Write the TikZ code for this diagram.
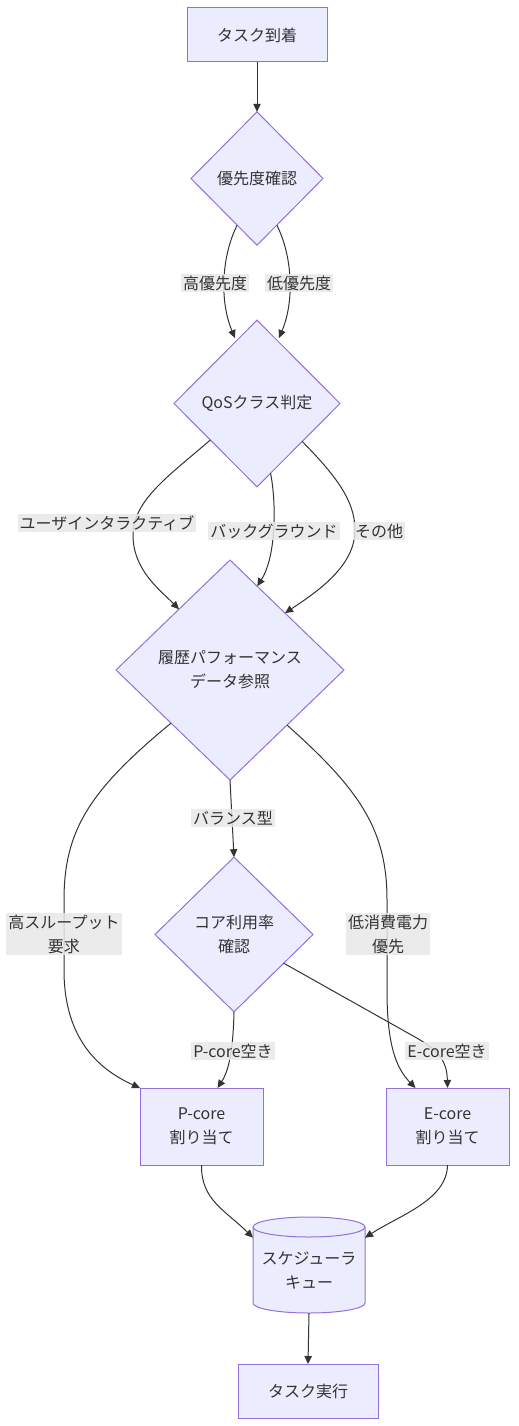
\documentclass[tikz,border=0pt]{standalone}
\usepackage{fontspec}
\setmainfont{Noto Sans CJK JP}
\usetikzlibrary{shapes.geometric,arrows.meta}
\definecolor{nfill}{HTML}{ECECFF}
\definecolor{nline}{HTML}{9370DB}
\definecolor{eline}{HTML}{333333}
\definecolor{lbg}{HTML}{E8E8E8}
\definecolor{txt}{HTML}{333333}
\tikzset{
  base/.style={draw=nline, fill=nfill, line width=0.75pt, text=txt, align=center,
    inner sep=0pt, outer sep=0pt, font=\fontsize{12}{18}\selectfont},
  box/.style={base, rectangle},
  dia/.style={base, diamond, aspect=1},
  edge/.style={draw=eline, line width=0.75pt, -{Triangle[length=6pt,width=5.5pt]}},
  lab/.style={fill=lbg, fill opacity=0.85, text opacity=1, text=txt, inner sep=1.5pt,
    align=center, font=\fontsize{12}{18}\selectfont},
}
\begin{document}
\begin{tikzpicture}[x=0.75pt,y=-0.75pt]
\useasboundingbox (0,0) rectangle (518,1426);

% nodes
\node[box, minimum width=105pt, minimum height=40.5pt] (arr) at (257,35) {タスク到着};
\node[dia, minimum width=99pt, minimum height=100pt] (pri) at (257,178.5) {優先度確認};
\node[dia, minimum width=124.5pt, minimum height=125pt] (qos) at (257,403.5) {QoSクラス判定};
\node[dia, minimum width=171pt, minimum height=165pt] (hist) at (230,670) {履歴パフォーマンス\\データ参照};
\node[dia, minimum width=118.5pt, minimum height=116pt] (core) at (234,934.5) {コア利用率\\確認};
\node[box, minimum width=92.25pt, minimum height=57.75pt] (pc) at (201.5,1126.5) {P-core\\割り当て};
\node[box, minimum width=92.25pt, minimum height=57.75pt] (ec) at (447.5,1126.5) {E-core\\割り当て};
\node[box, minimum width=105pt, minimum height=40.5pt] (run) at (308,1391) {タスク実行};

% cylinder (queue)
\filldraw[draw=nline, fill=nfill, line width=0.75pt]
  (253,1227) -- (253,1303)
  arc[start angle=180, end angle=360, x radius=42pt, y radius=7.5pt]
  -- (365,1227)
  arc[start angle=0, end angle=180, x radius=42pt, y radius=7.5pt] -- cycle;
\draw[draw=nline, line width=0.75pt]
  (253,1227) arc[start angle=180, end angle=360, x radius=42pt, y radius=7.5pt];
\node[text=txt, align=center, inner sep=0pt, outer sep=0pt, font=\fontsize{12}{18}\selectfont,
  minimum width=84pt, minimum height=64.5pt] (q) at (309,1270) {スケジューラ\\キュー};

% edges
\draw[edge] (arr) -- (pri);
\draw[edge] (pri.247) .. controls (222,255) and (219,300) .. (235,338);
\draw[edge] (pri.293) .. controls (292,255) and (295,300) .. (279,338);

\draw[edge] (qos.218) .. controls (170,475) and (133,500) .. (133,535)
  .. controls (133,570) and (160,590) .. (hist.130);
\draw[edge] (qos.281) .. controls (276,500) and (277,555) .. (hist.72);
\draw[edge] (qos.320) .. controls (335,475) and (355,500) .. (355,530)
  .. controls (355,565) and (320,590) .. (hist.46);

\draw[edge] (hist.222) .. controls (90,790) and (64,830) .. (64,900) -- (64,970)
  .. controls (64,1040) and (100,1070) .. (pc.north west);
\draw[edge] (hist.south) -- (core.north);
\draw[edge] (hist.316) .. controls (360,790) and (387,830) .. (387,900) -- (387,990)
  .. controls (387,1045) and (396,1068) .. ([xshift=-24pt]ec.north);

\draw[edge] (core.south) .. controls (233,1060) and (226,1075) .. ([xshift=12pt]pc.north);
\draw[edge] (core.330) -- (415,1037) .. controls (440,1051) and (447,1062) .. (ec.north);

\draw[edge] (pc.south) .. controls (201,1200) and (225,1210) .. (q.150);
\draw[edge] (ec.south) .. controls (447,1200) and (400,1215) .. (q.30);
\draw[edge] (q.south) -- (run.north);

% labels
\node[lab] (l1) at (215,283) {高優先度};
\node[lab] (l2) at (299,283) {低優先度};
\node[lab] (l3) at (107,523) {ユーザインタラクティブ};
\node[lab] (l4) at (274,531) {バックグラウンド};
\node[lab] (l5) at (379,531) {その他};
\node[lab] (l6) at (233,818) {バランス型};
\node[lab] (l7) at (64,934) {高スループット\\要求};
\node[lab] (l8) at (388,934) {低消費電力\\優先};
\node[lab] (l9) at (233,1051) {P-core空き};
\node[lab] (l10) at (447,1051) {E-core空き};
\end{tikzpicture}
\end{document}
